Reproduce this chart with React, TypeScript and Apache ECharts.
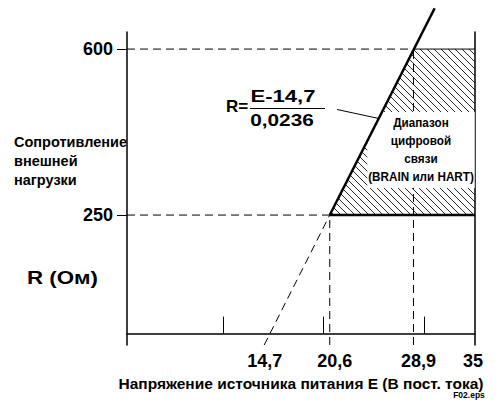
import React, { useEffect, useRef } from 'react';
import * as echarts from 'echarts';

// ---- data ----
const resistanceLevels = [250, 600]; // R (Ohm) guide levels
const voltageLevels = [20.6, 28.9]; // E (V DC) guide levels
const xTickValues = [10, 20, 30];
const xLabelValues = [14.7, 20.6, 28.9, 35];
const yLabelValues = [250, 600];
const loadLine = [[20.6, 250], [31.0, 686]];
const loadLineExtension = [[14.1, -24], [20.6, 250]];
const commRegion = [[20.6, 250], [28.9, 600], [35, 600], [35, 250]];
const regionBottom = [[20.6, 250], [35, 250]];
const regionTop = [[28.9, 600], [35, 600]];
const X_MIN = 0.5;
const X_MAX = 35;
const Y_MIN = -24;
const Y_MAX = 636;

const regionLabel = 'Диапазон\nцифровой\nсвязи\n(BRAIN или HART)';
const yName = 'Сопротивление\nвнешней\nнагрузки';
const yUnit = 'R (Ом)';
const xName = 'Напряжение источника питания E (В пост. тока)';

// ---- styling ----
const FONT = "'Liberation Sans', Arial, sans-serif";
const dash = [8, 5];
const xLabelShift = [-5.5, 5, 5, -2]; // px nudges of the tick labels, as in the drawing

function guideLines() {
  const out: number[][][] = [];
  out.push([[X_MIN, resistanceLevels[0]], [voltageLevels[0], resistanceLevels[0]]]);
  out.push([[X_MIN, resistanceLevels[1]], [voltageLevels[1], resistanceLevels[1]]]);
  out.push([[voltageLevels[0], Y_MIN], [voltageLevels[0], resistanceLevels[0]]]);
  out.push([[voltageLevels[1], Y_MIN], [voltageLevels[1], resistanceLevels[1]]]);
  return out;
}

export default function App() {
  const ref = useRef<HTMLDivElement>(null);
  useEffect(() => {
    if (!ref.current) return;
    const chart = echarts.init(ref.current, undefined, { renderer: 'svg' });

    const dashedSeries = [...guideLines(), loadLineExtension].map((d) => ({
      type: 'line',
      data: d,
      symbol: 'none',
      silent: true,
      clip: false,
      z: 2,
      lineStyle: { color: '#000', width: 1, type: dash },
    }));

    const labelBase = { fontFamily: FONT, fontWeight: 'bold', fontSize: 18, color: '#000' };
    const rich: any = {};
    xLabelShift.forEach((s, i) => {
      rich['p' + i] = {
        ...labelBase,
        padding: s >= 0 ? [0, 0, 0, 2 * s] : [0, -2 * s, 0, 0],
      };
    });

    const option: any = {
      animation: false,
      backgroundColor: '#fff',
      grid: { left: 127, right: 25, top: 32, bottom: 60, containLabel: false },
      xAxis: {
        type: 'value',
        min: X_MIN,
        max: X_MAX,
        name: xName,
        nameLocation: 'middle',
        nameGap: 30,
        nameTextStyle: { fontFamily: FONT, fontWeight: 'bold', fontSize: 15.5, color: '#000' },
        axisLine: { show: true, lineStyle: { color: '#000', width: 1.5 } },
        axisTick: {
          show: true,
          inside: true,
          length: 17,
          customValues: xTickValues,
          lineStyle: { color: '#000', width: 1 },
        },
        axisLabel: {
          show: true,
          customValues: xLabelValues,
          formatter: (v: number) => {
            const i = xLabelValues.indexOf(v);
            const txt = String(v).replace('.', ',');
            return i >= 0 ? `{p${i}|${txt}}` : txt;
          },
          rich,
          ...labelBase,
          margin: 7,
        },
        splitLine: { show: false },
      },
      yAxis: [
        {
          type: 'value',
          min: Y_MIN,
          max: Y_MAX,
          axisLine: { show: true, lineStyle: { color: '#000', width: 1.5 } },
          axisTick: {
            show: true,
            length: 10,
            customValues: yLabelValues,
            lineStyle: { color: '#000', width: 1 },
          },
          axisLabel: {
            show: true,
            customValues: yLabelValues,
            ...labelBase,
            margin: 14,
          },
          splitLine: { show: false },
        },
        {
          type: 'value',
          position: 'right',
          min: Y_MIN,
          max: Y_MAX,
          axisLine: { show: true, lineStyle: { color: '#000', width: 1.5 } },
          axisTick: { show: false },
          axisLabel: { show: false },
          splitLine: { show: false },
        },
      ],
      graphic: [
        {
          type: 'text',
          x: 14,
          y: 132,
          style: {
            text: yName,
            fontFamily: FONT,
            fontWeight: 'bold',
            fontSize: 14.5,
            lineHeight: 19,
            fill: '#000',
            verticalAlign: 'top',
          },
        },
        {
          type: 'text',
          x: 27,
          y: 278,
          scaleX: 1.24,
          style: {
            text: yUnit,
            fontFamily: FONT,
            fontWeight: 'bold',
            fontSize: 18,
            fill: '#000',
            verticalAlign: 'middle',
          },
        },
        {
          type: 'text',
          x: 226,
          y: 106,
          style: { text: 'R=', fontFamily: FONT, fontWeight: 'bold', fontSize: 17, fill: '#000', verticalAlign: 'middle' },
        },
        {
          type: 'text',
          x: 283,
          y: 96.5,
          scaleX: 1.38,
          style: { text: 'E-14,7', fontFamily: FONT, fontWeight: 'bold', fontSize: 16, fill: '#000', align: 'center', verticalAlign: 'middle' },
        },
        {
          type: 'line',
          shape: { x1: 250, y1: 108.5, x2: 325, y2: 108.5 },
          style: { stroke: '#000', lineWidth: 1 },
        },
        {
          type: 'text',
          x: 282,
          y: 120,
          scaleX: 1.3,
          style: { text: '0,0236', fontFamily: FONT, fontWeight: 'bold', fontSize: 16, fill: '#000', align: 'center', verticalAlign: 'middle' },
        },
        {
          type: 'line',
          z: 15,
          shape: { x1: 337, y1: 109.5, x2: 379, y2: 118.5 },
          style: { stroke: '#000', lineWidth: 1 },
        },
        {
          type: 'text',
          x: 421,
          y: 150,
          z: 10,
          scaleX: 0.9,
          style: {
            text: regionLabel,
            fontFamily: FONT,
            fontWeight: 'bold',
            fontSize: 13,
            lineHeight: 18,
            fill: '#000',
            align: 'center',
            verticalAlign: 'middle',
            backgroundColor: '#fff',
            padding: [2, 1],
          },
        },
        {
          type: 'text',
          x: 469,
          y: 395,
          style: { text: 'F02.eps', fontFamily: FONT, fontWeight: 'bold', fontSize: 8.5, fill: '#000', align: 'center', verticalAlign: 'middle' },
        },
      ],
      series: [
        {
          type: 'custom',
          silent: true,
          z: 1,
          data: [commRegion[0]],
          renderItem: (_params: any, api: any) => {
            const pts = commRegion.map((p) => api.coord(p));
            const vals = pts.map((p: number[]) => p[0] - p[1]);
            const cmin = Math.min(...vals);
            const cmax = Math.max(...vals);
            const step = 7;
            const children: any[] = [];
            for (let c = Math.ceil(cmin / step) * step; c <= cmax; c += step) {
              const hits: number[][] = [];
              for (let i = 0; i < pts.length; i++) {
                const a = pts[i];
                const b = pts[(i + 1) % pts.length];
                const fa = a[0] - a[1] - c;
                const fb = b[0] - b[1] - c;
                if ((fa <= 0 && fb > 0) || (fa > 0 && fb <= 0)) {
                  const t = fa / (fa - fb);
                  hits.push([a[0] + t * (b[0] - a[0]), a[1] + t * (b[1] - a[1])]);
                }
              }
              if (hits.length >= 2) {
                children.push({
                  type: 'line',
                  shape: { x1: hits[0][0], y1: hits[0][1], x2: hits[1][0], y2: hits[1][1] },
                  style: { stroke: '#111', lineWidth: 0.9 },
                });
              }
            }
            return { type: 'group', children };
          },
        },
        ...dashedSeries,
        {
          type: 'line',
          data: regionTop,
          symbol: 'none',
          silent: true,
          z: 3,
          lineStyle: { color: '#000', width: 1 },
        },
        {
          type: 'line',
          data: regionBottom,
          symbol: 'none',
          silent: true,
          z: 20,
          lineStyle: { color: '#000', width: 2.5 },
        },
        {
          type: 'line',
          data: loadLine,
          symbol: 'none',
          silent: true,
          clip: false,
          z: 20,
          lineStyle: { color: '#000', width: 2.5 },
        },
      ],
    };
    chart.setOption(option);
    return () => chart.dispose();
  }, []);
  return <div ref={ref} style={{ width: 500, height: 405, position: 'absolute', left: 0, top: 0 }} />;
}
